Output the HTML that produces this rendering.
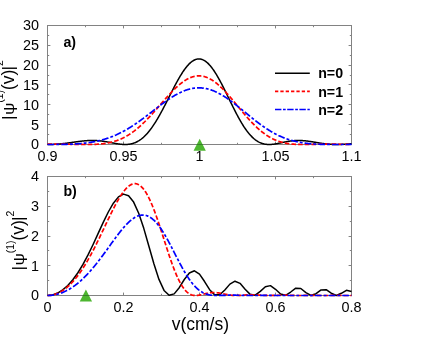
<!DOCTYPE html>
<html><head><meta charset="utf-8"><title>chart</title>
<style>html,body{margin:0;padding:0;background:#fff;overflow:hidden}body{width:436px;height:337px;position:relative;font-family:"Liberation Sans",sans-serif}</style>
</head><body>
<svg width="436" height="337" viewBox="0 0 436 337" style="display:block;position:absolute;left:0;top:0;will-change:transform">
<rect width="436" height="337" fill="#fff"/>
<defs><clipPath id="ca"><rect x="47" y="20" width="305" height="125.3"/></clipPath><clipPath id="cb"><rect x="47" y="170" width="305" height="126.3"/></clipPath></defs>
<g stroke="#828282" stroke-width="1" fill="none">
<rect x="47.5" y="25.5" width="304.0" height="119.0"/>
<path d="M123.5,144.5 v-2.9 M123.5,25.5 v2.9"/>
<path d="M199.5,144.5 v-2.9 M199.5,25.5 v2.9"/>
<path d="M275.5,144.5 v-2.9 M275.5,25.5 v2.9"/>
<path d="M85.5,144.5 v-1.7 M85.5,25.5 v1.7"/>
<path d="M161.5,144.5 v-1.7 M161.5,25.5 v1.7"/>
<path d="M237.5,144.5 v-1.7 M237.5,25.5 v1.7"/>
<path d="M313.5,144.5 v-1.7 M313.5,25.5 v1.7"/>
<path d="M47.5,124.5 h2.9 M351.5,124.5 h-2.9"/>
<path d="M47.5,104.5 h2.9 M351.5,104.5 h-2.9"/>
<path d="M47.5,84.5 h2.9 M351.5,84.5 h-2.9"/>
<path d="M47.5,65.5 h2.9 M351.5,65.5 h-2.9"/>
<path d="M47.5,45.5 h2.9 M351.5,45.5 h-2.9"/>
<path d="M47.5,134.5 h1.7 M351.5,134.5 h-1.7"/>
<path d="M47.5,114.5 h1.7 M351.5,114.5 h-1.7"/>
<path d="M47.5,94.5 h1.7 M351.5,94.5 h-1.7"/>
<path d="M47.5,75.5 h1.7 M351.5,75.5 h-1.7"/>
<path d="M47.5,55.5 h1.7 M351.5,55.5 h-1.7"/>
<path d="M47.5,35.5 h1.7 M351.5,35.5 h-1.7"/>
</g>
<g stroke="#828282" stroke-width="1" fill="none">
<rect x="47.5" y="176.5" width="304.0" height="119.0"/>
<path d="M123.5,295.5 v-2.9 M123.5,176.5 v2.9"/>
<path d="M199.5,295.5 v-2.9 M199.5,176.5 v2.9"/>
<path d="M275.5,295.5 v-2.9 M275.5,176.5 v2.9"/>
<path d="M85.5,295.5 v-1.7 M85.5,176.5 v1.7"/>
<path d="M161.5,295.5 v-1.7 M161.5,176.5 v1.7"/>
<path d="M237.5,295.5 v-1.7 M237.5,176.5 v1.7"/>
<path d="M313.5,295.5 v-1.7 M313.5,176.5 v1.7"/>
<path d="M47.5,265.5 h2.9 M351.5,265.5 h-2.9"/>
<path d="M47.5,236.5 h2.9 M351.5,236.5 h-2.9"/>
<path d="M47.5,206.5 h2.9 M351.5,206.5 h-2.9"/>
<path d="M47.5,280.5 h1.7 M351.5,280.5 h-1.7"/>
<path d="M47.5,250.5 h1.7 M351.5,250.5 h-1.7"/>
<path d="M47.5,221.5 h1.7 M351.5,221.5 h-1.7"/>
<path d="M47.5,191.5 h1.7 M351.5,191.5 h-1.7"/>
</g>
<polygon points="199.70,138.70 193.55,150.80 205.85,150.80" fill="#4db630"/><rect x="196.75" y="144.0" width="5.90" height="1" fill="#37802a"/>
<polygon points="85.90,289.50 79.75,301.60 92.05,301.60" fill="#4db630"/><rect x="82.85" y="295.0" width="6.10" height="1" fill="#37802a"/>
<g fill="none" stroke-linejoin="round">
<path d="M47.50,144.50 L48.00,144.50 L48.50,144.50 L49.00,144.49 L49.50,144.49 L50.00,144.48 L50.50,144.47 L51.00,144.46 L51.50,144.44 L52.00,144.43 L52.50,144.41 L53.00,144.39 L53.50,144.37 L54.00,144.35 L54.50,144.32 L55.00,144.30 L55.50,144.27 L56.00,144.24 L56.50,144.21 L57.00,144.17 L57.50,144.14 L58.00,144.10 L58.50,144.06 L59.00,144.02 L59.50,143.97 L60.00,143.93 L60.50,143.88 L61.00,143.83 L61.50,143.78 L62.00,143.73 L62.50,143.67 L63.00,143.62 L63.50,143.56 L64.00,143.50 L64.50,143.44 L65.00,143.38 L65.50,143.32 L66.00,143.26 L66.50,143.19 L67.00,143.13 L67.50,143.06 L68.00,142.99 L68.50,142.93 L69.00,142.86 L69.50,142.79 L70.00,142.72 L70.50,142.65 L71.00,142.57 L71.50,142.50 L72.00,142.43 L72.50,142.36 L73.00,142.29 L73.50,142.21 L74.00,142.14 L74.50,142.07 L75.00,142.00 L75.50,141.93 L76.00,141.86 L76.50,141.79 L77.00,141.72 L77.50,141.65 L78.00,141.58 L78.50,141.51 L79.00,141.45 L79.50,141.38 L80.00,141.32 L80.50,141.26 L81.00,141.20 L81.50,141.14 L82.00,141.09 L82.50,141.03 L83.00,140.98 L83.50,140.93 L84.00,140.88 L84.50,140.83 L85.00,140.79 L85.50,140.75 L86.00,140.71 L86.50,140.67 L87.00,140.64 L87.50,140.61 L88.00,140.58 L88.50,140.55 L89.00,140.53 L89.50,140.51 L90.00,140.50 L90.50,140.48 L91.00,140.47 L91.50,140.47 L92.00,140.46 L92.50,140.46 L93.00,140.47 L93.50,140.47 L94.00,140.48 L94.50,140.50 L95.00,140.51 L95.50,140.53 L96.00,140.56 L96.50,140.58 L97.00,140.61 L97.50,140.65 L98.00,140.69 L98.50,140.73 L99.00,140.77 L99.50,140.82 L100.00,140.87 L100.50,140.92 L101.00,140.98 L101.50,141.04 L102.00,141.10 L102.50,141.17 L103.00,141.24 L103.50,141.31 L104.00,141.38 L104.50,141.46 L105.00,141.54 L105.50,141.62 L106.00,141.70 L106.50,141.78 L107.00,141.87 L107.50,141.96 L108.00,142.05 L108.50,142.14 L109.00,142.24 L109.50,142.33 L110.00,142.42 L110.50,142.52 L111.00,142.61 L111.50,142.71 L112.00,142.81 L112.50,142.90 L113.00,143.00 L113.50,143.09 L114.00,143.19 L114.50,143.28 L115.00,143.37 L115.50,143.46 L116.00,143.55 L116.50,143.64 L117.00,143.72 L117.50,143.80 L118.00,143.88 L118.50,143.95 L119.00,144.02 L119.50,144.09 L120.00,144.15 L120.50,144.21 L121.00,144.27 L121.50,144.32 L122.00,144.36 L122.50,144.40 L123.00,144.43 L123.50,144.46 L124.00,144.48 L124.50,144.49 L125.00,144.50 L125.50,144.50 L126.00,144.49 L126.50,144.47 L127.00,144.45 L127.50,144.41 L128.00,144.37 L128.50,144.32 L129.00,144.26 L129.50,144.19 L130.00,144.11 L130.50,144.02 L131.00,143.91 L131.50,143.80 L132.00,143.68 L132.50,143.54 L133.00,143.39 L133.50,143.23 L134.00,143.06 L134.50,142.88 L135.00,142.68 L135.50,142.47 L136.00,142.25 L136.50,142.01 L137.00,141.76 L137.50,141.50 L138.00,141.22 L138.50,140.93 L139.00,140.63 L139.50,140.31 L140.00,139.97 L140.50,139.62 L141.00,139.26 L141.50,138.88 L142.00,138.48 L142.50,138.07 L143.00,137.65 L143.50,137.21 L144.00,136.75 L144.50,136.28 L145.00,135.79 L145.50,135.29 L146.00,134.77 L146.50,134.24 L147.00,133.69 L147.50,133.13 L148.00,132.55 L148.50,131.95 L149.00,131.34 L149.50,130.72 L150.00,130.08 L150.50,129.42 L151.00,128.75 L151.50,128.07 L152.00,127.37 L152.50,126.66 L153.00,125.93 L153.50,125.19 L154.00,124.44 L154.50,123.67 L155.00,122.89 L155.50,122.09 L156.00,121.29 L156.50,120.47 L157.00,119.64 L157.50,118.79 L158.00,117.94 L158.50,117.07 L159.00,116.20 L159.50,115.31 L160.00,114.42 L160.50,113.51 L161.00,112.60 L161.50,111.68 L162.00,110.75 L162.50,109.81 L163.00,108.87 L163.50,107.92 L164.00,106.96 L164.50,105.99 L165.00,105.03 L165.50,104.05 L166.00,103.08 L166.50,102.10 L167.00,101.11 L167.50,100.13 L168.00,99.14 L168.50,98.15 L169.00,97.16 L169.50,96.17 L170.00,95.18 L170.50,94.20 L171.00,93.21 L171.50,92.23 L172.00,91.25 L172.50,90.27 L173.00,89.30 L173.50,88.33 L174.00,87.37 L174.50,86.41 L175.00,85.46 L175.50,84.52 L176.00,83.59 L176.50,82.66 L177.00,81.74 L177.50,80.84 L178.00,79.94 L178.50,79.06 L179.00,78.19 L179.50,77.33 L180.00,76.48 L180.50,75.65 L181.00,74.83 L181.50,74.02 L182.00,73.23 L182.50,72.46 L183.00,71.70 L183.50,70.96 L184.00,70.24 L184.50,69.54 L185.00,68.85 L185.50,68.18 L186.00,67.54 L186.50,66.91 L187.00,66.31 L187.50,65.72 L188.00,65.16 L188.50,64.62 L189.00,64.10 L189.50,63.60 L190.00,63.13 L190.50,62.68 L191.00,62.26 L191.50,61.86 L192.00,61.48 L192.50,61.13 L193.00,60.80 L193.50,60.50 L194.00,60.23 L194.50,59.98 L195.00,59.76 L195.50,59.56 L196.00,59.39 L196.50,59.25 L197.00,59.13 L197.50,59.04 L198.00,58.98 L198.50,58.95 L199.00,58.94 L199.50,58.96 L200.00,59.01 L200.50,59.08 L201.00,59.18 L201.50,59.31 L202.00,59.46 L202.50,59.65 L203.00,59.86 L203.50,60.09 L204.00,60.35 L204.50,60.64 L205.00,60.96 L205.50,61.30 L206.00,61.67 L206.50,62.06 L207.00,62.48 L207.50,62.92 L208.00,63.38 L208.50,63.88 L209.00,64.39 L209.50,64.93 L210.00,65.49 L210.50,66.08 L211.00,66.68 L211.50,67.31 L212.00,67.96 L212.50,68.63 L213.00,69.33 L213.50,70.04 L214.00,70.77 L214.50,71.52 L215.00,72.29 L215.50,73.08 L216.00,73.88 L216.50,74.70 L217.00,75.54 L217.50,76.39 L218.00,77.26 L218.50,78.14 L219.00,79.03 L219.50,79.94 L220.00,80.86 L220.50,81.80 L221.00,82.74 L221.50,83.69 L222.00,84.66 L222.50,85.63 L223.00,86.61 L223.50,87.60 L224.00,88.60 L224.50,89.60 L225.00,90.61 L225.50,91.62 L226.00,92.64 L226.50,93.66 L227.00,94.68 L227.50,95.71 L228.00,96.74 L228.50,97.77 L229.00,98.79 L229.50,99.82 L230.00,100.85 L230.50,101.88 L231.00,102.90 L231.50,103.92 L232.00,104.94 L232.50,105.95 L233.00,106.96 L233.50,107.96 L234.00,108.96 L234.50,109.94 L235.00,110.93 L235.50,111.90 L236.00,112.87 L236.50,113.82 L237.00,114.77 L237.50,115.71 L238.00,116.64 L238.50,117.55 L239.00,118.46 L239.50,119.35 L240.00,120.23 L240.50,121.10 L241.00,121.96 L241.50,122.80 L242.00,123.63 L242.50,124.44 L243.00,125.24 L243.50,126.03 L244.00,126.80 L244.50,127.55 L245.00,128.29 L245.50,129.01 L246.00,129.72 L246.50,130.41 L247.00,131.08 L247.50,131.74 L248.00,132.38 L248.50,133.00 L249.00,133.61 L249.50,134.20 L250.00,134.77 L250.50,135.33 L251.00,135.86 L251.50,136.38 L252.00,136.88 L252.50,137.37 L253.00,137.83 L253.50,138.28 L254.00,138.72 L254.50,139.13 L255.00,139.53 L255.50,139.91 L256.00,140.27 L256.50,140.62 L257.00,140.95 L257.50,141.26 L258.00,141.56 L258.50,141.84 L259.00,142.11 L259.50,142.36 L260.00,142.59 L260.50,142.81 L261.00,143.01 L261.50,143.20 L262.00,143.38 L262.50,143.54 L263.00,143.69 L263.50,143.82 L264.00,143.94 L264.50,144.05 L265.00,144.14 L265.50,144.23 L266.00,144.30 L266.50,144.36 L267.00,144.41 L267.50,144.45 L268.00,144.47 L268.50,144.49 L269.00,144.50 L269.50,144.50 L270.00,144.49 L270.50,144.47 L271.00,144.44 L271.50,144.41 L272.00,144.37 L272.50,144.32 L273.00,144.27 L273.50,144.21 L274.00,144.14 L274.50,144.07 L275.00,143.99 L275.50,143.91 L276.00,143.82 L276.50,143.74 L277.00,143.64 L277.50,143.55 L278.00,143.45 L278.50,143.35 L279.00,143.25 L279.50,143.14 L280.00,143.04 L280.50,142.93 L281.00,142.82 L281.50,142.72 L282.00,142.61 L282.50,142.50 L283.00,142.39 L283.50,142.29 L284.00,142.18 L284.50,142.08 L285.00,141.98 L285.50,141.88 L286.00,141.78 L286.50,141.68 L287.00,141.59 L287.50,141.50 L288.00,141.41 L288.50,141.33 L289.00,141.25 L289.50,141.17 L290.00,141.10 L290.50,141.02 L291.00,140.96 L291.50,140.90 L292.00,140.84 L292.50,140.78 L293.00,140.73 L293.50,140.68 L294.00,140.64 L294.50,140.60 L295.00,140.57 L295.50,140.54 L296.00,140.52 L296.50,140.50 L297.00,140.48 L297.50,140.47 L298.00,140.46 L298.50,140.46 L299.00,140.46 L299.50,140.47 L300.00,140.48 L300.50,140.50 L301.00,140.52 L301.50,140.54 L302.00,140.57 L302.50,140.60 L303.00,140.63 L303.50,140.67 L304.00,140.71 L304.50,140.76 L305.00,140.81 L305.50,140.86 L306.00,140.91 L306.50,140.97 L307.00,141.03 L307.50,141.10 L308.00,141.16 L308.50,141.23 L309.00,141.30 L309.50,141.38 L310.00,141.45 L310.50,141.53 L311.00,141.60 L311.50,141.68 L312.00,141.76 L312.50,141.85 L313.00,141.93 L313.50,142.01 L314.00,142.10 L314.50,142.18 L315.00,142.26 L315.50,142.35 L316.00,142.43 L316.50,142.52 L317.00,142.60 L317.50,142.69 L318.00,142.77 L318.50,142.85 L319.00,142.93 L319.50,143.01 L320.00,143.09 L320.50,143.17 L321.00,143.25 L321.50,143.32 L322.00,143.40 L322.50,143.47 L323.00,143.54 L323.50,143.61 L324.00,143.67 L324.50,143.74 L325.00,143.80 L325.50,143.86 L326.00,143.91 L326.50,143.97 L327.00,144.02 L327.50,144.07 L328.00,144.12 L328.50,144.16 L329.00,144.20 L329.50,144.24 L330.00,144.28 L330.50,144.31 L331.00,144.34 L331.50,144.37 L332.00,144.39 L332.50,144.42 L333.00,144.44 L333.50,144.45 L334.00,144.47 L334.50,144.48 L335.00,144.49 L335.50,144.49 L336.00,144.50 L336.50,144.50 L337.00,144.50 L337.50,144.50 L338.00,144.49 L338.50,144.48 L339.00,144.47 L339.50,144.46 L340.00,144.44 L340.50,144.43 L341.00,144.41 L341.50,144.39 L342.00,144.37 L342.50,144.34 L343.00,144.32 L343.50,144.29 L344.00,144.26 L344.50,144.23 L345.00,144.20 L345.50,144.17 L346.00,144.14 L346.50,144.10 L347.00,144.07 L347.50,144.04 L348.00,144.00 L348.50,143.96 L349.00,143.93 L349.50,143.89 L350.00,143.86 L350.50,143.82 L351.00,143.78 L351.50,143.75" stroke="#000" stroke-width="1.5"/>
<path d="M47.50,144.20 L48.00,144.19 L48.50,144.19 L49.00,144.18 L49.50,144.18 L50.00,144.18 L50.50,144.17 L51.00,144.17 L51.50,144.17 L52.00,144.17 L52.50,144.16 L53.00,144.16 L53.50,144.16 L54.00,144.16 L54.50,144.16 L55.00,144.16 L55.50,144.16 L56.00,144.16 L56.50,144.16 L57.00,144.16 L57.50,144.16 L58.00,144.16 L58.50,144.16 L59.00,144.16 L59.50,144.16 L60.00,144.16 L60.50,144.17 L61.00,144.17 L61.50,144.17 L62.00,144.18 L62.50,144.18 L63.00,144.18 L63.50,144.19 L64.00,144.19 L64.50,144.20 L65.00,144.20 L65.50,144.21 L66.00,144.21 L66.50,144.22 L67.00,144.22 L67.50,144.23 L68.00,144.24 L68.50,144.24 L69.00,144.25 L69.50,144.26 L70.00,144.27 L70.50,144.28 L71.00,144.28 L71.50,144.29 L72.00,144.30 L72.50,144.31 L73.00,144.32 L73.50,144.33 L74.00,144.33 L74.50,144.34 L75.00,144.35 L75.50,144.36 L76.00,144.37 L76.50,144.38 L77.00,144.39 L77.50,144.40 L78.00,144.41 L78.50,144.41 L79.00,144.42 L79.50,144.43 L80.00,144.44 L80.50,144.45 L81.00,144.45 L81.50,144.46 L82.00,144.47 L82.50,144.47 L83.00,144.48 L83.50,144.48 L84.00,144.49 L84.50,144.49 L85.00,144.49 L85.50,144.50 L86.00,144.50 L86.50,144.50 L87.00,144.50 L87.50,144.50 L88.00,144.50 L88.50,144.50 L89.00,144.49 L89.50,144.49 L90.00,144.48 L90.50,144.47 L91.00,144.47 L91.50,144.46 L92.00,144.44 L92.50,144.43 L93.00,144.42 L93.50,144.40 L94.00,144.38 L94.50,144.36 L95.00,144.34 L95.50,144.32 L96.00,144.30 L96.50,144.27 L97.00,144.24 L97.50,144.21 L98.00,144.18 L98.50,144.14 L99.00,144.10 L99.50,144.06 L100.00,144.02 L100.50,143.97 L101.00,143.93 L101.50,143.88 L102.00,143.82 L102.50,143.76 L103.00,143.71 L103.50,143.64 L104.00,143.58 L104.50,143.51 L105.00,143.44 L105.50,143.36 L106.00,143.28 L106.50,143.20 L107.00,143.11 L107.50,143.02 L108.00,142.93 L108.50,142.83 L109.00,142.73 L109.50,142.62 L110.00,142.51 L110.50,142.40 L111.00,142.28 L111.50,142.16 L112.00,142.03 L112.50,141.90 L113.00,141.77 L113.50,141.62 L114.00,141.48 L114.50,141.33 L115.00,141.18 L115.50,141.02 L116.00,140.85 L116.50,140.68 L117.00,140.51 L117.50,140.33 L118.00,140.14 L118.50,139.95 L119.00,139.76 L119.50,139.55 L120.00,139.35 L120.50,139.14 L121.00,138.92 L121.50,138.70 L122.00,138.47 L122.50,138.23 L123.00,137.99 L123.50,137.75 L124.00,137.49 L124.50,137.23 L125.00,136.97 L125.50,136.70 L126.00,136.43 L126.50,136.14 L127.00,135.86 L127.50,135.56 L128.00,135.26 L128.50,134.96 L129.00,134.64 L129.50,134.33 L130.00,134.00 L130.50,133.67 L131.00,133.33 L131.50,132.99 L132.00,132.64 L132.50,132.29 L133.00,131.93 L133.50,131.56 L134.00,131.18 L134.50,130.81 L135.00,130.42 L135.50,130.03 L136.00,129.63 L136.50,129.23 L137.00,128.82 L137.50,128.40 L138.00,127.98 L138.50,127.55 L139.00,127.12 L139.50,126.68 L140.00,126.24 L140.50,125.79 L141.00,125.34 L141.50,124.88 L142.00,124.41 L142.50,123.94 L143.00,123.46 L143.50,122.98 L144.00,122.50 L144.50,122.01 L145.00,121.51 L145.50,121.01 L146.00,120.50 L146.50,120.00 L147.00,119.48 L147.50,118.96 L148.00,118.44 L148.50,117.92 L149.00,117.38 L149.50,116.85 L150.00,116.31 L150.50,115.77 L151.00,115.23 L151.50,114.68 L152.00,114.13 L152.50,113.58 L153.00,113.02 L153.50,112.46 L154.00,111.90 L154.50,111.34 L155.00,110.77 L155.50,110.21 L156.00,109.64 L156.50,109.07 L157.00,108.49 L157.50,107.92 L158.00,107.35 L158.50,106.77 L159.00,106.19 L159.50,105.62 L160.00,105.04 L160.50,104.47 L161.00,103.89 L161.50,103.31 L162.00,102.74 L162.50,102.16 L163.00,101.59 L163.50,101.02 L164.00,100.44 L164.50,99.87 L165.00,99.31 L165.50,98.74 L166.00,98.18 L166.50,97.61 L167.00,97.06 L167.50,96.50 L168.00,95.95 L168.50,95.40 L169.00,94.85 L169.50,94.31 L170.00,93.77 L170.50,93.24 L171.00,92.71 L171.50,92.18 L172.00,91.66 L172.50,91.14 L173.00,90.63 L173.50,90.13 L174.00,89.63 L174.50,89.13 L175.00,88.65 L175.50,88.17 L176.00,87.69 L176.50,87.22 L177.00,86.76 L177.50,86.31 L178.00,85.86 L178.50,85.42 L179.00,84.99 L179.50,84.57 L180.00,84.15 L180.50,83.74 L181.00,83.35 L181.50,82.96 L182.00,82.57 L182.50,82.20 L183.00,81.84 L183.50,81.48 L184.00,81.14 L184.50,80.80 L185.00,80.48 L185.50,80.16 L186.00,79.86 L186.50,79.57 L187.00,79.28 L187.50,79.01 L188.00,78.74 L188.50,78.49 L189.00,78.25 L189.50,78.02 L190.00,77.80 L190.50,77.59 L191.00,77.40 L191.50,77.21 L192.00,77.04 L192.50,76.88 L193.00,76.73 L193.50,76.59 L194.00,76.47 L194.50,76.35 L195.00,76.25 L195.50,76.16 L196.00,76.08 L196.50,76.02 L197.00,75.97 L197.50,75.92 L198.00,75.90 L198.50,75.88 L199.00,75.88 L199.50,75.89 L200.00,75.91 L200.50,75.94 L201.00,75.99 L201.50,76.05 L202.00,76.12 L202.50,76.20 L203.00,76.30 L203.50,76.40 L204.00,76.52 L204.50,76.66 L205.00,76.80 L205.50,76.96 L206.00,77.13 L206.50,77.31 L207.00,77.50 L207.50,77.70 L208.00,77.92 L208.50,78.15 L209.00,78.39 L209.50,78.64 L210.00,78.90 L210.50,79.17 L211.00,79.46 L211.50,79.75 L212.00,80.06 L212.50,80.38 L213.00,80.71 L213.50,81.04 L214.00,81.39 L214.50,81.75 L215.00,82.12 L215.50,82.50 L216.00,82.89 L216.50,83.28 L217.00,83.69 L217.50,84.11 L218.00,84.53 L218.50,84.97 L219.00,85.41 L219.50,85.86 L220.00,86.32 L220.50,86.79 L221.00,87.26 L221.50,87.75 L222.00,88.24 L222.50,88.73 L223.00,89.24 L223.50,89.75 L224.00,90.27 L224.50,90.79 L225.00,91.32 L225.50,91.86 L226.00,92.40 L226.50,92.95 L227.00,93.50 L227.50,94.06 L228.00,94.62 L228.50,95.18 L229.00,95.75 L229.50,96.33 L230.00,96.91 L230.50,97.49 L231.00,98.07 L231.50,98.66 L232.00,99.25 L232.50,99.85 L233.00,100.44 L233.50,101.04 L234.00,101.64 L234.50,102.24 L235.00,102.85 L235.50,103.45 L236.00,104.06 L236.50,104.66 L237.00,105.27 L237.50,105.88 L238.00,106.48 L238.50,107.09 L239.00,107.69 L239.50,108.30 L240.00,108.90 L240.50,109.51 L241.00,110.11 L241.50,110.71 L242.00,111.31 L242.50,111.91 L243.00,112.50 L243.50,113.09 L244.00,113.68 L244.50,114.27 L245.00,114.86 L245.50,115.44 L246.00,116.02 L246.50,116.59 L247.00,117.16 L247.50,117.73 L248.00,118.29 L248.50,118.85 L249.00,119.41 L249.50,119.96 L250.00,120.50 L250.50,121.04 L251.00,121.58 L251.50,122.11 L252.00,122.63 L252.50,123.15 L253.00,123.67 L253.50,124.18 L254.00,124.68 L254.50,125.18 L255.00,125.67 L255.50,126.16 L256.00,126.64 L256.50,127.11 L257.00,127.58 L257.50,128.04 L258.00,128.50 L258.50,128.94 L259.00,129.38 L259.50,129.82 L260.00,130.25 L260.50,130.67 L261.00,131.08 L261.50,131.49 L262.00,131.89 L262.50,132.29 L263.00,132.67 L263.50,133.05 L264.00,133.42 L264.50,133.79 L265.00,134.15 L265.50,134.50 L266.00,134.84 L266.50,135.18 L267.00,135.51 L267.50,135.84 L268.00,136.15 L268.50,136.46 L269.00,136.76 L269.50,137.06 L270.00,137.34 L270.50,137.63 L271.00,137.90 L271.50,138.17 L272.00,138.43 L272.50,138.68 L273.00,138.93 L273.50,139.17 L274.00,139.40 L274.50,139.63 L275.00,139.85 L275.50,140.06 L276.00,140.27 L276.50,140.47 L277.00,140.67 L277.50,140.86 L278.00,141.04 L278.50,141.21 L279.00,141.39 L279.50,141.55 L280.00,141.71 L280.50,141.86 L281.00,142.01 L281.50,142.15 L282.00,142.29 L282.50,142.42 L283.00,142.55 L283.50,142.67 L284.00,142.79 L284.50,142.90 L285.00,143.00 L285.50,143.10 L286.00,143.20 L286.50,143.29 L287.00,143.38 L287.50,143.47 L288.00,143.55 L288.50,143.62 L289.00,143.69 L289.50,143.76 L290.00,143.83 L290.50,143.89 L291.00,143.94 L291.50,144.00 L292.00,144.05 L292.50,144.09 L293.00,144.14 L293.50,144.18 L294.00,144.21 L294.50,144.25 L295.00,144.28 L295.50,144.31 L296.00,144.34 L296.50,144.36 L297.00,144.38 L297.50,144.40 L298.00,144.42 L298.50,144.44 L299.00,144.45 L299.50,144.46 L300.00,144.47 L300.50,144.48 L301.00,144.49 L301.50,144.49 L302.00,144.50 L302.50,144.50 L303.00,144.50 L303.50,144.50 L304.00,144.50 L304.50,144.50 L305.00,144.49 L305.50,144.49 L306.00,144.48 L306.50,144.48 L307.00,144.47 L307.50,144.46 L308.00,144.46 L308.50,144.45 L309.00,144.44 L309.50,144.43 L310.00,144.42 L310.50,144.41 L311.00,144.40 L311.50,144.39 L312.00,144.38 L312.50,144.37 L313.00,144.36 L313.50,144.35 L314.00,144.34 L314.50,144.33 L315.00,144.32 L315.50,144.31 L316.00,144.30 L316.50,144.29 L317.00,144.28 L317.50,144.27 L318.00,144.26 L318.50,144.25 L319.00,144.24 L319.50,144.24 L320.00,144.23 L320.50,144.22 L321.00,144.21 L321.50,144.21 L322.00,144.20 L322.50,144.19 L323.00,144.19 L323.50,144.18 L324.00,144.18 L324.50,144.17 L325.00,144.17 L325.50,144.17 L326.00,144.16 L326.50,144.16 L327.00,144.16 L327.50,144.16 L328.00,144.16 L328.50,144.16 L329.00,144.16 L329.50,144.16 L330.00,144.16 L330.50,144.16 L331.00,144.16 L331.50,144.16 L332.00,144.16 L332.50,144.16 L333.00,144.17 L333.50,144.17 L334.00,144.17 L334.50,144.18 L335.00,144.18 L335.50,144.19 L336.00,144.19 L336.50,144.19 L337.00,144.20 L337.50,144.21 L338.00,144.21 L338.50,144.22 L339.00,144.22 L339.50,144.23 L340.00,144.23 L340.50,144.24 L341.00,144.25 L341.50,144.25 L342.00,144.26 L342.50,144.27 L343.00,144.27 L343.50,144.28 L344.00,144.29 L344.50,144.30 L345.00,144.30 L345.50,144.31 L346.00,144.32 L346.50,144.32 L347.00,144.33 L347.50,144.34 L348.00,144.34 L348.50,144.35 L349.00,144.36 L349.50,144.36 L350.00,144.37 L350.50,144.38 L351.00,144.38 L351.50,144.39" stroke="#ff0000" stroke-width="1.7" stroke-dasharray="4.6 2.1"/>
<path d="M47.50,144.50 L48.00,144.50 L48.50,144.50 L49.00,144.50 L49.50,144.50 L50.00,144.50 L50.50,144.50 L51.00,144.50 L51.50,144.50 L52.00,144.49 L52.50,144.49 L53.00,144.49 L53.50,144.49 L54.00,144.49 L54.50,144.48 L55.00,144.48 L55.50,144.48 L56.00,144.47 L56.50,144.47 L57.00,144.47 L57.50,144.46 L58.00,144.46 L58.50,144.45 L59.00,144.45 L59.50,144.44 L60.00,144.43 L60.50,144.43 L61.00,144.42 L61.50,144.41 L62.00,144.40 L62.50,144.39 L63.00,144.39 L63.50,144.38 L64.00,144.37 L64.50,144.35 L65.00,144.34 L65.50,144.33 L66.00,144.32 L66.50,144.30 L67.00,144.29 L67.50,144.27 L68.00,144.26 L68.50,144.24 L69.00,144.22 L69.50,144.21 L70.00,144.19 L70.50,144.17 L71.00,144.15 L71.50,144.13 L72.00,144.10 L72.50,144.08 L73.00,144.05 L73.50,144.03 L74.00,144.00 L74.50,143.98 L75.00,143.95 L75.50,143.92 L76.00,143.89 L76.50,143.85 L77.00,143.82 L77.50,143.79 L78.00,143.75 L78.50,143.71 L79.00,143.67 L79.50,143.63 L80.00,143.59 L80.50,143.55 L81.00,143.51 L81.50,143.46 L82.00,143.41 L82.50,143.36 L83.00,143.31 L83.50,143.26 L84.00,143.21 L84.50,143.15 L85.00,143.10 L85.50,143.04 L86.00,142.98 L86.50,142.92 L87.00,142.85 L87.50,142.79 L88.00,142.72 L88.50,142.65 L89.00,142.58 L89.50,142.50 L90.00,142.43 L90.50,142.35 L91.00,142.27 L91.50,142.19 L92.00,142.10 L92.50,142.02 L93.00,141.93 L93.50,141.84 L94.00,141.74 L94.50,141.65 L95.00,141.55 L95.50,141.45 L96.00,141.35 L96.50,141.24 L97.00,141.14 L97.50,141.03 L98.00,140.91 L98.50,140.80 L99.00,140.68 L99.50,140.56 L100.00,140.44 L100.50,140.31 L101.00,140.18 L101.50,140.05 L102.00,139.92 L102.50,139.78 L103.00,139.64 L103.50,139.50 L104.00,139.36 L104.50,139.21 L105.00,139.06 L105.50,138.90 L106.00,138.75 L106.50,138.59 L107.00,138.42 L107.50,138.26 L108.00,138.09 L108.50,137.92 L109.00,137.74 L109.50,137.56 L110.00,137.38 L110.50,137.20 L111.00,137.01 L111.50,136.82 L112.00,136.62 L112.50,136.43 L113.00,136.23 L113.50,136.02 L114.00,135.82 L114.50,135.60 L115.00,135.39 L115.50,135.17 L116.00,134.96 L116.50,134.73 L117.00,134.51 L117.50,134.28 L118.00,134.04 L118.50,133.81 L119.00,133.57 L119.50,133.32 L120.00,133.08 L120.50,132.83 L121.00,132.58 L121.50,132.32 L122.00,132.06 L122.50,131.80 L123.00,131.53 L123.50,131.26 L124.00,130.99 L124.50,130.72 L125.00,130.44 L125.50,130.16 L126.00,129.87 L126.50,129.59 L127.00,129.29 L127.50,129.00 L128.00,128.70 L128.50,128.40 L129.00,128.10 L129.50,127.80 L130.00,127.49 L130.50,127.17 L131.00,126.86 L131.50,126.54 L132.00,126.22 L132.50,125.90 L133.00,125.57 L133.50,125.25 L134.00,124.91 L134.50,124.58 L135.00,124.24 L135.50,123.91 L136.00,123.56 L136.50,123.22 L137.00,122.87 L137.50,122.53 L138.00,122.18 L138.50,121.82 L139.00,121.47 L139.50,121.11 L140.00,120.75 L140.50,120.39 L141.00,120.03 L141.50,119.66 L142.00,119.30 L142.50,118.93 L143.00,118.56 L143.50,118.19 L144.00,117.81 L144.50,117.44 L145.00,117.06 L145.50,116.69 L146.00,116.31 L146.50,115.93 L147.00,115.55 L147.50,115.17 L148.00,114.78 L148.50,114.40 L149.00,114.01 L149.50,113.63 L150.00,113.24 L150.50,112.86 L151.00,112.47 L151.50,112.09 L152.00,111.70 L152.50,111.31 L153.00,110.92 L153.50,110.54 L154.00,110.15 L154.50,109.76 L155.00,109.38 L155.50,108.99 L156.00,108.61 L156.50,108.22 L157.00,107.84 L157.50,107.45 L158.00,107.07 L158.50,106.69 L159.00,106.31 L159.50,105.93 L160.00,105.55 L160.50,105.17 L161.00,104.80 L161.50,104.42 L162.00,104.05 L162.50,103.68 L163.00,103.31 L163.50,102.95 L164.00,102.58 L164.50,102.22 L165.00,101.86 L165.50,101.51 L166.00,101.15 L166.50,100.80 L167.00,100.45 L167.50,100.10 L168.00,99.76 L168.50,99.42 L169.00,99.08 L169.50,98.75 L170.00,98.42 L170.50,98.09 L171.00,97.76 L171.50,97.44 L172.00,97.13 L172.50,96.81 L173.00,96.50 L173.50,96.20 L174.00,95.90 L174.50,95.60 L175.00,95.31 L175.50,95.02 L176.00,94.74 L176.50,94.46 L177.00,94.18 L177.50,93.92 L178.00,93.65 L178.50,93.39 L179.00,93.14 L179.50,92.89 L180.00,92.64 L180.50,92.40 L181.00,92.17 L181.50,91.94 L182.00,91.72 L182.50,91.50 L183.00,91.29 L183.50,91.08 L184.00,90.88 L184.50,90.69 L185.00,90.50 L185.50,90.32 L186.00,90.14 L186.50,89.97 L187.00,89.81 L187.50,89.65 L188.00,89.50 L188.50,89.35 L189.00,89.21 L189.50,89.08 L190.00,88.96 L190.50,88.84 L191.00,88.73 L191.50,88.62 L192.00,88.52 L192.50,88.43 L193.00,88.34 L193.50,88.26 L194.00,88.19 L194.50,88.13 L195.00,88.07 L195.50,88.02 L196.00,87.97 L196.50,87.94 L197.00,87.91 L197.50,87.88 L198.00,87.87 L198.50,87.86 L199.00,87.86 L199.50,87.86 L200.00,87.87 L200.50,87.89 L201.00,87.92 L201.50,87.95 L202.00,87.99 L202.50,88.04 L203.00,88.09 L203.50,88.16 L204.00,88.22 L204.50,88.30 L205.00,88.38 L205.50,88.47 L206.00,88.57 L206.50,88.67 L207.00,88.78 L207.50,88.90 L208.00,89.02 L208.50,89.15 L209.00,89.29 L209.50,89.44 L210.00,89.59 L210.50,89.74 L211.00,89.91 L211.50,90.08 L212.00,90.26 L212.50,90.44 L213.00,90.63 L213.50,90.83 L214.00,91.03 L214.50,91.24 L215.00,91.45 L215.50,91.67 L216.00,91.90 L216.50,92.13 L217.00,92.37 L217.50,92.62 L218.00,92.87 L218.50,93.12 L219.00,93.38 L219.50,93.65 L220.00,93.92 L220.50,94.20 L221.00,94.48 L221.50,94.77 L222.00,95.06 L222.50,95.36 L223.00,95.66 L223.50,95.97 L224.00,96.28 L224.50,96.60 L225.00,96.92 L225.50,97.25 L226.00,97.58 L226.50,97.91 L227.00,98.25 L227.50,98.59 L228.00,98.94 L228.50,99.29 L229.00,99.64 L229.50,100.00 L230.00,100.36 L230.50,100.72 L231.00,101.09 L231.50,101.46 L232.00,101.83 L232.50,102.21 L233.00,102.58 L233.50,102.97 L234.00,103.35 L234.50,103.74 L235.00,104.12 L235.50,104.51 L236.00,104.91 L236.50,105.30 L237.00,105.70 L237.50,106.10 L238.00,106.50 L238.50,106.90 L239.00,107.30 L239.50,107.71 L240.00,108.11 L240.50,108.52 L241.00,108.93 L241.50,109.34 L242.00,109.74 L242.50,110.15 L243.00,110.56 L243.50,110.98 L244.00,111.39 L244.50,111.80 L245.00,112.21 L245.50,112.62 L246.00,113.03 L246.50,113.44 L247.00,113.85 L247.50,114.26 L248.00,114.67 L248.50,115.08 L249.00,115.49 L249.50,115.90 L250.00,116.30 L250.50,116.71 L251.00,117.11 L251.50,117.52 L252.00,117.92 L252.50,118.32 L253.00,118.72 L253.50,119.12 L254.00,119.51 L254.50,119.90 L255.00,120.30 L255.50,120.69 L256.00,121.07 L256.50,121.46 L257.00,121.84 L257.50,122.22 L258.00,122.60 L258.50,122.98 L259.00,123.35 L259.50,123.73 L260.00,124.10 L260.50,124.46 L261.00,124.82 L261.50,125.19 L262.00,125.54 L262.50,125.90 L263.00,126.25 L263.50,126.60 L264.00,126.94 L264.50,127.29 L265.00,127.63 L265.50,127.96 L266.00,128.30 L266.50,128.63 L267.00,128.95 L267.50,129.27 L268.00,129.59 L268.50,129.91 L269.00,130.22 L269.50,130.53 L270.00,130.83 L270.50,131.14 L271.00,131.43 L271.50,131.73 L272.00,132.02 L272.50,132.30 L273.00,132.59 L273.50,132.87 L274.00,133.14 L274.50,133.41 L275.00,133.68 L275.50,133.94 L276.00,134.20 L276.50,134.46 L277.00,134.71 L277.50,134.96 L278.00,135.20 L278.50,135.45 L279.00,135.68 L279.50,135.91 L280.00,136.14 L280.50,136.37 L281.00,136.59 L281.50,136.81 L282.00,137.02 L282.50,137.23 L283.00,137.44 L283.50,137.64 L284.00,137.84 L284.50,138.03 L285.00,138.22 L285.50,138.41 L286.00,138.59 L286.50,138.77 L287.00,138.95 L287.50,139.12 L288.00,139.29 L288.50,139.46 L289.00,139.62 L289.50,139.77 L290.00,139.93 L290.50,140.08 L291.00,140.23 L291.50,140.37 L292.00,140.51 L292.50,140.65 L293.00,140.79 L293.50,140.92 L294.00,141.04 L294.50,141.17 L295.00,141.29 L295.50,141.41 L296.00,141.52 L296.50,141.64 L297.00,141.75 L297.50,141.85 L298.00,141.96 L298.50,142.06 L299.00,142.15 L299.50,142.25 L300.00,142.34 L300.50,142.43 L301.00,142.52 L301.50,142.60 L302.00,142.68 L302.50,142.76 L303.00,142.84 L303.50,142.91 L304.00,142.98 L304.50,143.05 L305.00,143.12 L305.50,143.18 L306.00,143.25 L306.50,143.31 L307.00,143.37 L307.50,143.42 L308.00,143.48 L308.50,143.53 L309.00,143.58 L309.50,143.63 L310.00,143.67 L310.50,143.72 L311.00,143.76 L311.50,143.80 L312.00,143.84 L312.50,143.88 L313.00,143.92 L313.50,143.95 L314.00,143.99 L314.50,144.02 L315.00,144.05 L315.50,144.08 L316.00,144.10 L316.50,144.13 L317.00,144.16 L317.50,144.18 L318.00,144.20 L318.50,144.22 L319.00,144.24 L319.50,144.26 L320.00,144.28 L320.50,144.30 L321.00,144.32 L321.50,144.33 L322.00,144.35 L322.50,144.36 L323.00,144.37 L323.50,144.38 L324.00,144.39 L324.50,144.41 L325.00,144.41 L325.50,144.42 L326.00,144.43 L326.50,144.44 L327.00,144.45 L327.50,144.45 L328.00,144.46 L328.50,144.46 L329.00,144.47 L329.50,144.47 L330.00,144.48 L330.50,144.48 L331.00,144.49 L331.50,144.49 L332.00,144.49 L332.50,144.49 L333.00,144.49 L333.50,144.50 L334.00,144.50 L334.50,144.50 L335.00,144.50 L335.50,144.50 L336.00,144.50 L336.50,144.50 L337.00,144.50 L337.50,144.50 L338.00,144.50 L338.50,144.50 L339.00,144.50 L339.50,144.50 L340.00,144.50 L340.50,144.50 L341.00,144.49 L341.50,144.49 L342.00,144.49 L342.50,144.49 L343.00,144.49 L343.50,144.49 L344.00,144.49 L344.50,144.49 L345.00,144.48 L345.50,144.48 L346.00,144.48 L346.50,144.48 L347.00,144.48 L347.50,144.48 L348.00,144.48 L348.50,144.47 L349.00,144.47 L349.50,144.47 L350.00,144.47 L350.50,144.47 L351.00,144.47 L351.50,144.47" stroke="#0000ff" stroke-width="1.7" stroke-dasharray="6.8 2 2.9 2"/>
</g>
<g fill="none" stroke-linejoin="round">
<path d="M47.50,295.50 L52.57,294.89 L57.63,293.04 L62.70,289.93 L67.77,285.54 L72.83,279.81 L77.90,272.76 L82.97,264.42 L88.03,254.91 L93.10,244.46 L98.17,233.43 L103.23,222.37 L108.30,212.00 L113.37,203.18 L118.43,196.89 L123.50,194.12 L128.57,195.68 L133.63,202.07 L138.70,213.22 L143.77,228.35 L148.83,245.94 L153.90,263.81 L158.97,279.41 L164.03,290.42 L169.10,295.29 L174.17,293.88 L179.23,287.66 L184.30,279.52 L189.37,272.94 L194.43,270.79 L199.50,274.11 L204.57,281.53 L209.63,289.71 L214.70,294.86 L219.77,294.75 L224.83,290.03 L229.90,284.13 L234.97,281.19 L240.03,283.36 L245.10,289.15 L250.17,294.36 L255.23,295.18 L260.30,291.39 L265.37,286.70 L270.43,285.63 L275.50,289.27 L280.57,294.08 L285.63,295.32 L290.70,292.02 L295.77,288.22 L300.83,288.50 L305.90,292.58 L310.97,295.46 L316.03,293.69 L321.10,289.97 L326.17,289.63 L331.23,293.20 L336.30,295.50 L341.37,293.29 L346.43,290.31 L351.50,291.49" stroke="#000" stroke-width="1.5"/>
<path d="M47.50,295.50 L48.01,295.49 L48.51,295.48 L49.02,295.45 L49.53,295.41 L50.03,295.36 L50.54,295.30 L51.05,295.23 L51.55,295.15 L52.06,295.06 L52.57,294.95 L53.07,294.84 L53.58,294.71 L54.09,294.58 L54.59,294.43 L55.10,294.27 L55.61,294.10 L56.11,293.92 L56.62,293.73 L57.13,293.52 L57.63,293.31 L58.14,293.08 L58.65,292.85 L59.15,292.60 L59.66,292.34 L60.17,292.07 L60.67,291.79 L61.18,291.50 L61.69,291.19 L62.19,290.88 L62.70,290.55 L63.21,290.21 L63.71,289.87 L64.22,289.51 L64.73,289.13 L65.23,288.75 L65.74,288.36 L66.25,287.95 L66.75,287.54 L67.26,287.11 L67.77,286.67 L68.27,286.22 L68.78,285.75 L69.29,285.28 L69.79,284.79 L70.30,284.30 L70.81,283.79 L71.31,283.27 L71.82,282.74 L72.33,282.19 L72.83,281.64 L73.34,281.07 L73.85,280.50 L74.35,279.91 L74.86,279.31 L75.37,278.70 L75.87,278.07 L76.38,277.44 L76.89,276.79 L77.39,276.14 L77.90,275.47 L78.41,274.79 L78.91,274.10 L79.42,273.39 L79.93,272.68 L80.43,271.96 L80.94,271.22 L81.45,270.47 L81.95,269.72 L82.46,268.95 L82.97,268.17 L83.47,267.38 L83.98,266.58 L84.49,265.77 L84.99,264.95 L85.50,264.11 L86.01,263.27 L86.51,262.42 L87.02,261.56 L87.53,260.69 L88.03,259.80 L88.54,258.91 L89.05,258.01 L89.55,257.10 L90.06,256.18 L90.57,255.25 L91.07,254.32 L91.58,253.37 L92.09,252.42 L92.59,251.46 L93.10,250.49 L93.61,249.51 L94.11,248.52 L94.62,247.53 L95.13,246.53 L95.63,245.53 L96.14,244.51 L96.65,243.49 L97.15,242.47 L97.66,241.44 L98.17,240.40 L98.67,239.36 L99.18,238.32 L99.69,237.27 L100.19,236.21 L100.70,235.16 L101.21,234.10 L101.71,233.03 L102.22,231.97 L102.73,230.90 L103.23,229.83 L103.74,228.76 L104.25,227.69 L104.75,226.62 L105.26,225.55 L105.77,224.48 L106.27,223.41 L106.78,222.34 L107.29,221.27 L107.79,220.21 L108.30,219.15 L108.81,218.09 L109.31,217.04 L109.82,215.99 L110.33,214.95 L110.83,213.91 L111.34,212.88 L111.85,211.86 L112.35,210.84 L112.86,209.83 L113.37,208.84 L113.87,207.85 L114.38,206.87 L114.89,205.90 L115.39,204.94 L115.90,204.00 L116.41,203.07 L116.91,202.15 L117.42,201.24 L117.93,200.35 L118.43,199.48 L118.94,198.62 L119.45,197.78 L119.95,196.95 L120.46,196.15 L120.97,195.36 L121.47,194.59 L121.98,193.84 L122.49,193.12 L122.99,192.41 L123.50,191.73 L124.01,191.07 L124.51,190.43 L125.02,189.82 L125.53,189.23 L126.03,188.67 L126.54,188.14 L127.05,187.63 L127.55,187.15 L128.06,186.69 L128.57,186.27 L129.07,185.88 L129.58,185.51 L130.09,185.18 L130.59,184.88 L131.10,184.61 L131.61,184.37 L132.11,184.16 L132.62,183.99 L133.13,183.86 L133.63,183.75 L134.14,183.68 L134.65,183.65 L135.15,183.65 L135.66,183.69 L136.17,183.76 L136.67,183.87 L137.18,184.02 L137.69,184.21 L138.19,184.43 L138.70,184.69 L139.21,184.99 L139.71,185.32 L140.22,185.70 L140.73,186.11 L141.23,186.56 L141.74,187.05 L142.25,187.58 L142.75,188.14 L143.26,188.74 L143.77,189.38 L144.27,190.06 L144.78,190.78 L145.29,191.53 L145.79,192.32 L146.30,193.15 L146.81,194.01 L147.31,194.91 L147.82,195.84 L148.33,196.81 L148.83,197.82 L149.34,198.85 L149.85,199.92 L150.35,201.03 L150.86,202.16 L151.37,203.32 L151.87,204.52 L152.38,205.74 L152.89,207.00 L153.39,208.28 L153.90,209.58 L154.41,210.92 L154.91,212.27 L155.42,213.66 L155.93,215.06 L156.43,216.48 L156.94,217.93 L157.45,219.39 L157.95,220.87 L158.46,222.37 L158.97,223.88 L159.47,225.41 L159.98,226.95 L160.49,228.50 L160.99,230.06 L161.50,231.63 L162.01,233.20 L162.51,234.79 L163.02,236.37 L163.53,237.96 L164.03,239.55 L164.54,241.14 L165.05,242.72 L165.55,244.31 L166.06,245.89 L166.57,247.46 L167.07,249.03 L167.58,250.59 L168.09,252.13 L168.59,253.67 L169.10,255.19 L169.61,256.70 L170.11,258.19 L170.62,259.66 L171.13,261.12 L171.63,262.55 L172.14,263.97 L172.65,265.36 L173.15,266.73 L173.66,268.07 L174.17,269.39 L174.67,270.68 L175.18,271.95 L175.69,273.18 L176.19,274.39 L176.70,275.56 L177.21,276.70 L177.71,277.82 L178.22,278.90 L178.73,279.94 L179.23,280.95 L179.74,281.93 L180.25,282.87 L180.75,283.78 L181.26,284.65 L181.77,285.49 L182.27,286.29 L182.78,287.06 L183.29,287.78 L183.79,288.48 L184.30,289.13 L184.81,289.76 L185.31,290.34 L185.82,290.89 L186.33,291.41 L186.83,291.89 L187.34,292.34 L187.85,292.75 L188.35,293.13 L188.86,293.48 L189.37,293.80 L189.87,294.09 L190.38,294.35 L190.89,294.57 L191.39,294.78 L191.90,294.95 L192.41,295.10 L192.91,295.22 L193.42,295.32 L193.93,295.40 L194.43,295.45 L194.94,295.48 L195.45,295.50 L195.95,295.50 L196.46,295.48 L196.97,295.44 L197.47,295.39 L197.98,295.33 L198.49,295.25 L198.99,295.16 L199.50,295.07 L200.01,294.96 L200.51,294.85 L201.02,294.73 L201.53,294.61 L202.03,294.49 L202.54,294.36 L203.05,294.23 L203.55,294.10 L204.06,293.97 L204.57,293.84 L205.07,293.71 L205.58,293.59 L206.09,293.47 L206.59,293.35 L207.10,293.24 L207.61,293.14 L208.11,293.04 L208.62,292.95 L209.13,292.87 L209.63,292.79 L210.14,292.73 L210.65,292.67 L211.15,292.62 L211.66,292.58 L212.17,292.55 L212.67,292.53 L213.18,292.52 L213.69,292.51 L214.19,292.52 L214.70,292.53 L215.21,292.56 L215.71,292.59 L216.22,292.63 L216.73,292.68 L217.23,292.74 L217.74,292.80 L218.25,292.87 L218.75,292.95 L219.26,293.03 L219.77,293.11 L220.27,293.21 L220.78,293.30 L221.29,293.40 L221.79,293.50 L222.30,293.61 L222.81,293.71 L223.31,293.82 L223.82,293.93 L224.33,294.03 L224.83,294.14 L225.34,294.25 L225.85,294.35 L226.35,294.45 L226.86,294.55 L227.37,294.65 L227.87,294.74 L228.38,294.83 L228.89,294.91 L229.39,294.99 L229.90,295.06 L230.41,295.13 L230.91,295.19 L231.42,295.25 L231.93,295.30 L232.43,295.35 L232.94,295.39 L233.45,295.42 L233.95,295.45 L234.46,295.47 L234.97,295.48 L235.47,295.50 L235.98,295.50 L236.49,295.50 L236.99,295.49 L237.50,295.48 L238.01,295.47 L238.51,295.45 L239.02,295.43 L239.53,295.40 L240.03,295.37 L240.54,295.34 L241.05,295.30 L241.55,295.27 L242.06,295.23 L242.57,295.19 L243.07,295.15 L243.58,295.11 L244.09,295.07 L244.59,295.04 L245.10,295.00 L245.61,294.96 L246.11,294.93 L246.62,294.89 L247.13,294.86 L247.63,294.84 L248.14,294.81 L248.65,294.79 L249.15,294.77 L249.66,294.75 L250.17,294.74 L250.67,294.73 L251.18,294.73 L251.69,294.73 L252.19,294.73 L252.70,294.73 L253.21,294.74 L253.71,294.75 L254.22,294.77 L254.73,294.79 L255.23,294.81 L255.74,294.83 L256.25,294.86 L256.75,294.89 L257.26,294.92 L257.77,294.95 L258.27,294.98 L258.78,295.01 L259.29,295.05 L259.79,295.08 L260.30,295.12 L260.81,295.15 L261.31,295.19 L261.82,295.22 L262.33,295.25 L262.83,295.29 L263.34,295.32 L263.85,295.34 L264.35,295.37 L264.86,295.39 L265.37,295.42 L265.87,295.44 L266.38,295.45 L266.89,295.47 L267.39,295.48 L267.90,295.49 L268.41,295.49 L268.91,295.50 L269.42,295.50 L269.93,295.50 L270.43,295.50 L270.94,295.49 L271.45,295.48 L271.95,295.47 L272.46,295.46 L272.97,295.45 L273.47,295.43 L273.98,295.42 L274.49,295.40 L274.99,295.38 L275.50,295.37 L276.01,295.35 L276.51,295.33 L277.02,295.31 L277.53,295.29 L278.03,295.28 L278.54,295.26 L279.05,295.25 L279.55,295.24 L280.06,295.22 L280.57,295.21 L281.07,295.20 L281.58,295.20 L282.09,295.19 L282.59,295.19 L283.10,295.19 L283.61,295.19 L284.11,295.19 L284.62,295.20 L285.13,295.20 L285.63,295.21 L286.14,295.22 L286.65,295.23 L287.15,295.24 L287.66,295.25 L288.17,295.27 L288.67,295.28 L289.18,295.30 L289.69,295.32 L290.19,295.33 L290.70,295.35 L291.21,295.37 L291.71,295.38 L292.22,295.40 L292.73,295.41 L293.23,295.43 L293.74,295.44 L294.25,295.45 L294.75,295.46 L295.26,295.47 L295.77,295.48 L296.27,295.49 L296.78,295.49 L297.29,295.50 L297.79,295.50 L298.30,295.50 L298.81,295.50 L299.31,295.50 L299.82,295.49 L300.33,295.49 L300.83,295.48 L301.34,295.48 L301.85,295.47 L302.35,295.46 L302.86,295.45 L303.37,295.44 L303.87,295.43 L304.38,295.42 L304.89,295.41 L305.39,295.40 L305.90,295.39 L306.41,295.38 L306.91,295.38 L307.42,295.37 L307.93,295.36 L308.43,295.36 L308.94,295.35 L309.45,295.35 L309.95,295.35 L310.46,295.34 L310.97,295.34 L311.47,295.34 L311.98,295.35 L312.49,295.35 L312.99,295.35 L313.50,295.36 L314.01,295.37 L314.51,295.37 L315.02,295.38 L315.53,295.39 L316.03,295.40 L316.54,295.41 L317.05,295.42 L317.55,295.43 L318.06,295.43 L318.57,295.44 L319.07,295.45 L319.58,295.46 L320.09,295.47 L320.59,295.48 L321.10,295.48 L321.61,295.49 L322.11,295.49 L322.62,295.50 L323.13,295.50 L323.63,295.50 L324.14,295.50 L324.65,295.50 L325.15,295.50 L325.66,295.50 L326.17,295.49 L326.67,295.49 L327.18,295.49 L327.69,295.48 L328.19,295.47 L328.70,295.47 L329.21,295.46 L329.71,295.46 L330.22,295.45 L330.73,295.44 L331.23,295.44 L331.74,295.43 L332.25,295.43 L332.75,295.42 L333.26,295.42 L333.77,295.42 L334.27,295.41 L334.78,295.41 L335.29,295.41 L335.79,295.41 L336.30,295.41 L336.81,295.41 L337.31,295.41 L337.82,295.42 L338.33,295.42 L338.83,295.43 L339.34,295.43 L339.85,295.43 L340.35,295.44 L340.86,295.45 L341.37,295.45 L341.87,295.46 L342.38,295.46 L342.89,295.47 L343.39,295.47 L343.90,295.48 L344.41,295.48 L344.91,295.49 L345.42,295.49 L345.93,295.49 L346.43,295.50 L346.94,295.50 L347.45,295.50 L347.95,295.50 L348.46,295.50 L348.97,295.50 L349.47,295.50 L349.98,295.49 L350.49,295.49 L350.99,295.49 L351.50,295.49" stroke="#ff0000" stroke-width="1.7" stroke-dasharray="4.6 2.1"/>
<path d="M47.50,295.50 L48.01,295.50 L48.51,295.49 L49.02,295.47 L49.53,295.45 L50.03,295.42 L50.54,295.38 L51.05,295.33 L51.55,295.28 L52.06,295.23 L52.57,295.16 L53.07,295.09 L53.58,295.01 L54.09,294.93 L54.59,294.84 L55.10,294.74 L55.61,294.63 L56.11,294.52 L56.62,294.40 L57.13,294.28 L57.63,294.14 L58.14,294.00 L58.65,293.86 L59.15,293.71 L59.66,293.55 L60.17,293.38 L60.67,293.21 L61.18,293.02 L61.69,292.84 L62.19,292.64 L62.70,292.44 L63.21,292.23 L63.71,292.02 L64.22,291.80 L64.73,291.57 L65.23,291.33 L65.74,291.09 L66.25,290.84 L66.75,290.58 L67.26,290.32 L67.77,290.05 L68.27,289.77 L68.78,289.49 L69.29,289.19 L69.79,288.90 L70.30,288.59 L70.81,288.28 L71.31,287.96 L71.82,287.63 L72.33,287.30 L72.83,286.96 L73.34,286.61 L73.85,286.25 L74.35,285.89 L74.86,285.52 L75.37,285.15 L75.87,284.77 L76.38,284.38 L76.89,283.98 L77.39,283.58 L77.90,283.17 L78.41,282.75 L78.91,282.32 L79.42,281.89 L79.93,281.46 L80.43,281.01 L80.94,280.56 L81.45,280.10 L81.95,279.64 L82.46,279.16 L82.97,278.68 L83.47,278.20 L83.98,277.71 L84.49,277.21 L84.99,276.70 L85.50,276.19 L86.01,275.67 L86.51,275.15 L87.02,274.62 L87.53,274.08 L88.03,273.54 L88.54,272.99 L89.05,272.43 L89.55,271.87 L90.06,271.30 L90.57,270.73 L91.07,270.15 L91.58,269.56 L92.09,268.97 L92.59,268.38 L93.10,267.77 L93.61,267.17 L94.11,266.55 L94.62,265.94 L95.13,265.31 L95.63,264.68 L96.14,264.05 L96.65,263.41 L97.15,262.77 L97.66,262.12 L98.17,261.47 L98.67,260.82 L99.18,260.16 L99.69,259.49 L100.19,258.83 L100.70,258.16 L101.21,257.48 L101.71,256.80 L102.22,256.12 L102.73,255.44 L103.23,254.75 L103.74,254.06 L104.25,253.37 L104.75,252.68 L105.26,251.98 L105.77,251.29 L106.27,250.59 L106.78,249.89 L107.29,249.18 L107.79,248.48 L108.30,247.78 L108.81,247.08 L109.31,246.37 L109.82,245.67 L110.33,244.96 L110.83,244.26 L111.34,243.56 L111.85,242.86 L112.35,242.16 L112.86,241.46 L113.37,240.76 L113.87,240.07 L114.38,239.38 L114.89,238.69 L115.39,238.00 L115.90,237.32 L116.41,236.64 L116.91,235.97 L117.42,235.30 L117.93,234.63 L118.43,233.97 L118.94,233.32 L119.45,232.67 L119.95,232.03 L120.46,231.39 L120.97,230.76 L121.47,230.14 L121.98,229.52 L122.49,228.91 L122.99,228.31 L123.50,227.72 L124.01,227.14 L124.51,226.57 L125.02,226.00 L125.53,225.45 L126.03,224.91 L126.54,224.37 L127.05,223.85 L127.55,223.34 L128.06,222.84 L128.57,222.35 L129.07,221.88 L129.58,221.42 L130.09,220.97 L130.59,220.54 L131.10,220.12 L131.61,219.71 L132.11,219.32 L132.62,218.94 L133.13,218.58 L133.63,218.23 L134.14,217.90 L134.65,217.59 L135.15,217.29 L135.66,217.01 L136.17,216.75 L136.67,216.51 L137.18,216.28 L137.69,216.07 L138.19,215.88 L138.70,215.71 L139.21,215.56 L139.71,215.42 L140.22,215.31 L140.73,215.22 L141.23,215.14 L141.74,215.09 L142.25,215.06 L142.75,215.04 L143.26,215.05 L143.77,215.08 L144.27,215.13 L144.78,215.21 L145.29,215.30 L145.79,215.41 L146.30,215.55 L146.81,215.71 L147.31,215.89 L147.82,216.09 L148.33,216.32 L148.83,216.56 L149.34,216.83 L149.85,217.12 L150.35,217.43 L150.86,217.77 L151.37,218.12 L151.87,218.50 L152.38,218.90 L152.89,219.32 L153.39,219.77 L153.90,220.23 L154.41,220.71 L154.91,221.22 L155.42,221.75 L155.93,222.29 L156.43,222.86 L156.94,223.45 L157.45,224.06 L157.95,224.68 L158.46,225.33 L158.97,225.99 L159.47,226.68 L159.98,227.38 L160.49,228.10 L160.99,228.83 L161.50,229.59 L162.01,230.36 L162.51,231.14 L163.02,231.94 L163.53,232.76 L164.03,233.59 L164.54,234.43 L165.05,235.29 L165.55,236.16 L166.06,237.04 L166.57,237.94 L167.07,238.84 L167.58,239.76 L168.09,240.68 L168.59,241.62 L169.10,242.56 L169.61,243.51 L170.11,244.47 L170.62,245.43 L171.13,246.40 L171.63,247.38 L172.14,248.36 L172.65,249.34 L173.15,250.33 L173.66,251.31 L174.17,252.30 L174.67,253.29 L175.18,254.29 L175.69,255.28 L176.19,256.27 L176.70,257.25 L177.21,258.24 L177.71,259.22 L178.22,260.20 L178.73,261.17 L179.23,262.14 L179.74,263.10 L180.25,264.05 L180.75,265.00 L181.26,265.94 L181.77,266.87 L182.27,267.79 L182.78,268.70 L183.29,269.60 L183.79,270.49 L184.30,271.37 L184.81,272.23 L185.31,273.09 L185.82,273.93 L186.33,274.75 L186.83,275.56 L187.34,276.36 L187.85,277.14 L188.35,277.91 L188.86,278.66 L189.37,279.40 L189.87,280.12 L190.38,280.82 L190.89,281.51 L191.39,282.18 L191.90,282.83 L192.41,283.46 L192.91,284.08 L193.42,284.68 L193.93,285.26 L194.43,285.82 L194.94,286.36 L195.45,286.89 L195.95,287.40 L196.46,287.89 L196.97,288.36 L197.47,288.81 L197.98,289.25 L198.49,289.67 L198.99,290.07 L199.50,290.45 L200.01,290.82 L200.51,291.17 L201.02,291.50 L201.53,291.82 L202.03,292.12 L202.54,292.40 L203.05,292.67 L203.55,292.92 L204.06,293.16 L204.57,293.39 L205.07,293.60 L205.58,293.79 L206.09,293.97 L206.59,294.14 L207.10,294.30 L207.61,294.44 L208.11,294.58 L208.62,294.70 L209.13,294.81 L209.63,294.91 L210.14,295.00 L210.65,295.08 L211.15,295.16 L211.66,295.22 L212.17,295.28 L212.67,295.33 L213.18,295.37 L213.69,295.40 L214.19,295.43 L214.70,295.46 L215.21,295.47 L215.71,295.49 L216.22,295.49 L216.73,295.50 L217.23,295.50 L217.74,295.50 L218.25,295.49 L218.75,295.48 L219.26,295.47 L219.77,295.46 L220.27,295.45 L220.78,295.43 L221.29,295.42 L221.79,295.40 L222.30,295.38 L222.81,295.37 L223.31,295.35 L223.82,295.33 L224.33,295.31 L224.83,295.30 L225.34,295.28 L225.85,295.27 L226.35,295.25 L226.86,295.24 L227.37,295.23 L227.87,295.22 L228.38,295.21 L228.89,295.20 L229.39,295.19 L229.90,295.19 L230.41,295.18 L230.91,295.18 L231.42,295.18 L231.93,295.18 L232.43,295.18 L232.94,295.18 L233.45,295.18 L233.95,295.19 L234.46,295.19 L234.97,295.20 L235.47,295.21 L235.98,295.22 L236.49,295.23 L236.99,295.24 L237.50,295.25 L238.01,295.26 L238.51,295.27 L239.02,295.28 L239.53,295.29 L240.03,295.30 L240.54,295.32 L241.05,295.33 L241.55,295.34 L242.06,295.35 L242.57,295.37 L243.07,295.38 L243.58,295.39 L244.09,295.40 L244.59,295.41 L245.10,295.42 L245.61,295.43 L246.11,295.44 L246.62,295.45 L247.13,295.46 L247.63,295.46 L248.14,295.47 L248.65,295.47 L249.15,295.48 L249.66,295.48 L250.17,295.49 L250.67,295.49 L251.18,295.49 L251.69,295.50 L252.19,295.50 L252.70,295.50 L253.21,295.50 L253.71,295.50 L254.22,295.50 L254.73,295.50 L255.23,295.50 L255.74,295.50 L256.25,295.49 L256.75,295.49 L257.26,295.49 L257.77,295.49 L258.27,295.48 L258.78,295.48 L259.29,295.48 L259.79,295.48 L260.30,295.47 L260.81,295.47 L261.31,295.47 L261.82,295.47 L262.33,295.46 L262.83,295.46 L263.34,295.46 L263.85,295.46 L264.35,295.46 L264.86,295.46 L265.37,295.46 L265.87,295.45 L266.38,295.45 L266.89,295.45 L267.39,295.45 L267.90,295.45 L268.41,295.46 L268.91,295.46 L269.42,295.46 L269.93,295.46 L270.43,295.46 L270.94,295.46 L271.45,295.46 L271.95,295.46 L272.46,295.47 L272.97,295.47 L273.47,295.47 L273.98,295.47 L274.49,295.47 L274.99,295.48 L275.50,295.48 L276.01,295.48 L276.51,295.48 L277.02,295.49 L277.53,295.49 L278.03,295.49 L278.54,295.49 L279.05,295.49 L279.55,295.49 L280.06,295.49 L280.57,295.50 L281.07,295.50 L281.58,295.50 L282.09,295.50 L282.59,295.50 L283.10,295.50 L283.61,295.50 L284.11,295.50 L284.62,295.50 L285.13,295.50 L285.63,295.50 L286.14,295.50 L286.65,295.50 L287.15,295.50 L287.66,295.50 L288.17,295.50 L288.67,295.50 L289.18,295.50 L289.69,295.49 L290.19,295.49 L290.70,295.49 L291.21,295.49 L291.71,295.49 L292.22,295.49 L292.73,295.49 L293.23,295.49 L293.74,295.49 L294.25,295.49 L294.75,295.49 L295.26,295.49 L295.77,295.49 L296.27,295.49 L296.78,295.49 L297.29,295.49 L297.79,295.49 L298.30,295.49 L298.81,295.49 L299.31,295.49 L299.82,295.49 L300.33,295.49 L300.83,295.49 L301.34,295.49 L301.85,295.49 L302.35,295.49 L302.86,295.49 L303.37,295.49 L303.87,295.49 L304.38,295.49 L304.89,295.50 L305.39,295.50 L305.90,295.50 L306.41,295.50 L306.91,295.50 L307.42,295.50 L307.93,295.50 L308.43,295.50 L308.94,295.50 L309.45,295.50 L309.95,295.50 L310.46,295.50 L310.97,295.50 L311.47,295.50 L311.98,295.50 L312.49,295.50 L312.99,295.50 L313.50,295.50 L314.01,295.50 L314.51,295.50 L315.02,295.50 L315.53,295.50 L316.03,295.50 L316.54,295.50 L317.05,295.50 L317.55,295.50 L318.06,295.50 L318.57,295.50 L319.07,295.50 L319.58,295.50 L320.09,295.50 L320.59,295.50 L321.10,295.50 L321.61,295.50 L322.11,295.50 L322.62,295.50 L323.13,295.50 L323.63,295.50 L324.14,295.50 L324.65,295.50 L325.15,295.50 L325.66,295.50 L326.17,295.50 L326.67,295.50 L327.18,295.50 L327.69,295.50 L328.19,295.50 L328.70,295.50 L329.21,295.50 L329.71,295.50 L330.22,295.50 L330.73,295.50 L331.23,295.50 L331.74,295.50 L332.25,295.50 L332.75,295.50 L333.26,295.50 L333.77,295.50 L334.27,295.50 L334.78,295.50 L335.29,295.50 L335.79,295.50 L336.30,295.50 L336.81,295.50 L337.31,295.50 L337.82,295.50 L338.33,295.50 L338.83,295.50 L339.34,295.50 L339.85,295.50 L340.35,295.50 L340.86,295.50 L341.37,295.50 L341.87,295.50 L342.38,295.50 L342.89,295.50 L343.39,295.50 L343.90,295.50 L344.41,295.50 L344.91,295.50 L345.42,295.50 L345.93,295.50 L346.43,295.50 L346.94,295.50 L347.45,295.50 L347.95,295.50 L348.46,295.50 L348.97,295.50 L349.47,295.50 L349.98,295.50 L350.49,295.50 L350.99,295.50 L351.50,295.50" stroke="#0000ff" stroke-width="1.7" stroke-dasharray="6.8 2 2.9 2"/>
</g>
<g font-family="Liberation Sans, sans-serif" font-size="14.4" fill="#000">
<text x="47.50" y="161.3" text-anchor="middle">0.9</text>
<text x="123.50" y="161.3" text-anchor="middle">0.95</text>
<text x="199.50" y="161.3" text-anchor="middle">1</text>
<text x="275.50" y="161.3" text-anchor="middle">1.05</text>
<text x="351.50" y="161.3" text-anchor="middle">1.1</text>
<text x="47.50" y="312.1" text-anchor="middle">0</text>
<text x="123.50" y="312.1" text-anchor="middle">0.2</text>
<text x="199.50" y="312.1" text-anchor="middle">0.4</text>
<text x="275.50" y="312.1" text-anchor="middle">0.6</text>
<text x="351.50" y="312.1" text-anchor="middle">0.8</text>
<text x="39.1" y="149.35" text-anchor="end">0</text>
<text x="39.1" y="129.52" text-anchor="end">5</text>
<text x="39.1" y="109.68" text-anchor="end">10</text>
<text x="39.1" y="89.85" text-anchor="end">15</text>
<text x="39.1" y="70.02" text-anchor="end">20</text>
<text x="39.1" y="50.18" text-anchor="end">25</text>
<text x="39.1" y="30.35" text-anchor="end">30</text>
<text x="39.1" y="300.35" text-anchor="end">0</text>
<text x="39.1" y="270.60" text-anchor="end">1</text>
<text x="39.1" y="240.85" text-anchor="end">2</text>
<text x="39.1" y="211.10" text-anchor="end">3</text>
<text x="39.1" y="181.35" text-anchor="end">4</text>
</g>
<g font-family="Liberation Sans, sans-serif" font-size="14.2" font-weight="bold" fill="#000">
<text x="63.4" y="47.2">a)</text>
<text x="63.4" y="196.2">b)</text>
<text x="318.2" y="78.40">n=0</text>
<text x="318.2" y="96.50">n=1</text>
<text x="318.2" y="114.60">n=2</text>
</g>
<g fill="none">
<path d="M275,73.30 H309.8" stroke="#000" stroke-width="1.5"/>
<path d="M275,91.40 H309.8" stroke="#ff0000" stroke-width="1.7" stroke-dasharray="3.3 2.05"/>
<path d="M275,109.50 H309.8" stroke="#0000ff" stroke-width="1.7" stroke-dasharray="6.4 1.6 2.7 1.5"/>
</g>
<text x="200.4" y="329.8" text-anchor="middle" font-family="Liberation Sans, sans-serif" font-size="17.5" fill="#000">v(cm/s)</text>
<g transform="translate(13.5,120.2) rotate(-90)" font-family="Liberation Sans, sans-serif" font-size="17.5" fill="#000"><text transform="translate(0.30,0) scale(1,0.95)">|</text><text transform="translate(5.10,0) scale(1,0.8)">ψ</text><text x="17.40" y="-10.4" font-size="10.4">(1)</text><text x="30.20" y="0">(v)</text><text transform="translate(49.70,0) scale(1,0.95)">|</text><text x="54.20" y="-10.4" font-size="10.4">2</text></g>
<g transform="translate(24.4,270.7) rotate(-90)" font-family="Liberation Sans, sans-serif" font-size="17.5" fill="#000"><text transform="translate(0.30,0) scale(1,0.95)">|</text><text transform="translate(5.10,0) scale(1,0.8)">ψ</text><text x="17.40" y="-10.4" font-size="10.4">(1)</text><text x="30.20" y="0">(v)</text><text transform="translate(49.70,0) scale(1,0.95)">|</text><text x="54.20" y="-10.4" font-size="10.4">2</text></g>
</svg>
</body></html>
